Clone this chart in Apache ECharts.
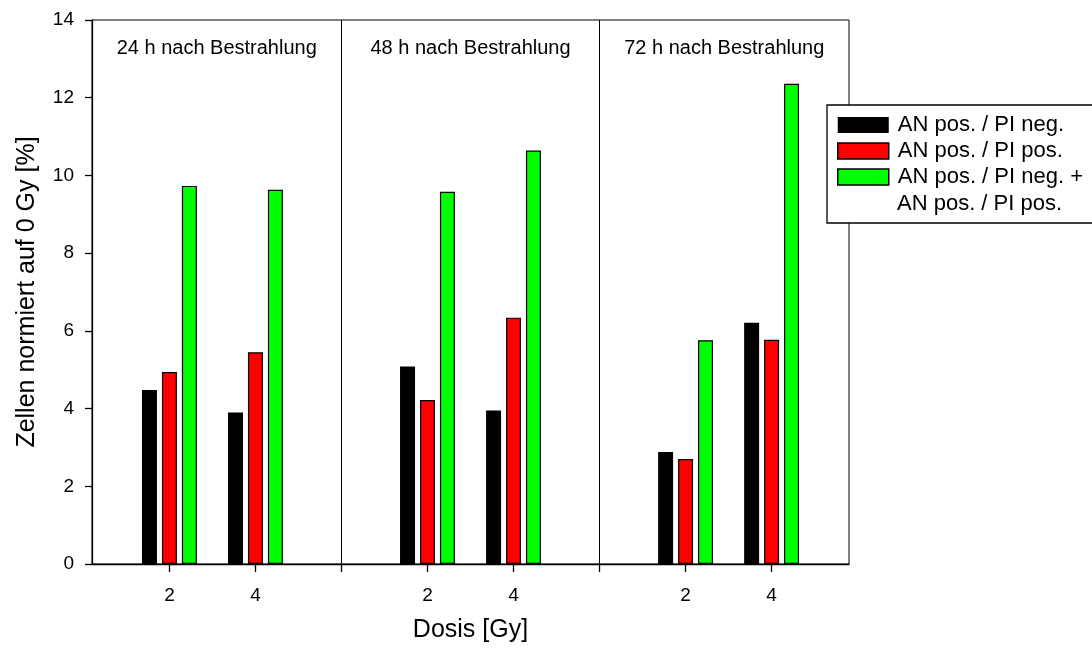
<!DOCTYPE html>
<html>
<head>
<meta charset="utf-8">
<script src="https://cdn.jsdelivr.net/npm/echarts@6/dist/echarts.min.js"></script>
<style>
  html, body { margin: 0; padding: 0; background: #fff; }
  #chart { width: 1092px; height: 648px; }
</style>
</head>
<body>
<div id="chart"></div>
<script>
// Dose levels within each time panel
const doseLabels = ['2', '4'];
// One panel per time after irradiation
const panelTitles = ['24 h nach Bestrahlung', '48 h nach Bestrahlung', '72 h nach Bestrahlung'];
// Series names
const seriesNames = ['AN pos. / PI neg.', 'AN pos. / PI pos.', 'AN pos. / PI neg. +\nAN pos. / PI pos.'];
// Values per series, ordered panel by panel, dose by dose (24h: 2,4 | 48h: 2,4 | 72h: 2,4)
const anPosPiNeg = [4.48, 3.90, 5.08, 3.95, 2.88, 6.21];
const anPosPiPos = [4.94, 5.45, 4.22, 6.34, 2.70, 5.77];
const anPosSum   = [9.73, 9.63, 9.58, 10.64, 5.76, 12.36];
// Y axis ticks
const yTicks = [0, 2, 4, 6, 8, 10, 12, 14];

const FONT = 'Liberation Sans, Arial, Helvetica, sans-serif';
const PANEL = 6;          // axis units per panel
const STEP = 2;           // axis units between doses
const AX_MIN = 0.2, AX_MAX = 3 * PANEL - 0.2;

// x position of dose d in panel p
const posOf = (p, d) => p * PANEL + (d + 1) * STEP;
const positions = [];
const posLabel = {};
panelTitles.forEach((_, p) => doseLabels.forEach((lab, d) => {
  const x = posOf(p, d);
  positions.push(x);
  posLabel[x] = lab;
}));
const tickPositions = [];
for (let x = STEP; x < AX_MAX; x += STEP) tickPositions.push(x);

const toPairs = vals => vals.map((v, i) => [positions[i], v]);

const colors = ['#000000', '#ff0000', '#00ff00'];
const values = [anPosPiNeg, anPosPiPos, anPosSum];

const series = values.map((vals, s) => ({
  name: seriesNames[s],
  type: 'bar',
  data: toPairs(vals),
  barWidth: 15,
  barGap: '33%',
  itemStyle: {
    color: colors[s],
    borderColor: '#000',
    borderWidth: s === 0 ? 0 : 1.2
  },
  emphasis: { disabled: true }
}));

// Panel dividers and panel headings (on the centred middle series)
series[1].markLine = {
  silent: true,
  symbol: 'none',
  label: { show: false },
  lineStyle: { color: '#000', width: 1, type: 'solid' },
  data: [1, 2].map(p => ({ xAxis: p * PANEL }))
};
series[1].markArea = {
  silent: true,
  itemStyle: { color: 'rgba(0,0,0,0)' },
  label: {
    show: true,
    position: 'insideTop',
    distance: 18,
    color: '#000',
    fontFamily: FONT,
    fontSize: 20
  },
  data: panelTitles.map((t, p) => [
    { name: t, xAxis: Math.max(AX_MIN, p * PANEL), yAxis: yTicks[yTicks.length - 1] },
    { xAxis: Math.min(AX_MAX, (p + 1) * PANEL), yAxis: yTicks[0] }
  ])
};

const [line3a, line3b] = seriesNames[2].split('\n');

const chart = echarts.init(document.getElementById('chart'), null, { renderer: 'canvas' });
chart.setOption({
  animation: false,
  backgroundColor: '#fff',
  textStyle: { fontFamily: FONT, color: '#000' },
  grid: {
    left: 92, right: 243, top: 20, bottom: 83,
    show: true, borderColor: '#000', borderWidth: 1, backgroundColor: 'transparent'
  },
  xAxis: {
    type: 'value',
    min: AX_MIN,
    max: AX_MAX,
    name: 'Dosis [Gy]',
    nameLocation: 'middle',
    nameGap: 54,
    nameTextStyle: { fontSize: 25, color: '#000', fontFamily: FONT },
    axisLine: { show: true, lineStyle: { color: '#000', width: 1.3 } },
    axisTick: { show: true, inside: false, length: 8, customValues: tickPositions, lineStyle: { color: '#000', width: 1.3 } },
    axisLabel: {
      customValues: positions,
      formatter: v => posLabel[Math.round(v)] || '',
      fontSize: 19, color: '#000', margin: 22, fontFamily: FONT
    },
    splitLine: { show: false }
  },
  yAxis: {
    type: 'value',
    min: yTicks[0],
    max: yTicks[yTicks.length - 1],
    interval: 2,
    name: 'Zellen normiert auf 0 Gy [%]',
    nameLocation: 'middle',
    nameRotate: 90,
    nameGap: 52,
    nameTextStyle: { fontSize: 25, color: '#000', fontFamily: FONT },
    axisLine: { show: true, lineStyle: { color: '#000', width: 1.3 } },
    axisTick: { show: true, inside: false, length: 7, lineStyle: { color: '#000', width: 1.3 } },
    axisLabel: { fontSize: 19, color: '#000', margin: 18, fontFamily: FONT },
    splitLine: { show: false }
  },
  legend: {
    z: 6,
    left: 837,
    top: 114,
    padding: 0,
    orient: 'vertical',
    itemWidth: 51,
    itemHeight: 16,
    itemGap: 4,
    icon: 'rect',
    selectedMode: false,
    formatter: name => name.split('\n')[0],
    textStyle: { fontSize: 22, color: '#000', fontFamily: FONT, padding: [0, 0, 0, 4] },
    data: [
      { name: seriesNames[0], itemStyle: { borderWidth: 0 } },
      { name: seriesNames[1], itemStyle: { borderColor: '#000', borderWidth: 1.5 } },
      { name: seriesNames[2], itemStyle: { borderColor: '#000', borderWidth: 1.5 } }
    ]
  },
  graphic: [{
    type: 'rect',
    z: 3,
    shape: { x: 827, y: 105, width: 300, height: 118 },
    style: { fill: '#fff', stroke: '#000', lineWidth: 1.3 }
  }, {
    // continuation line of the third legend entry
    type: 'text',
    z: 7,
    x: 897,
    y: 204,
    style: {
      text: line3b,
      font: '22px ' + FONT,
      fill: '#000',
      verticalAlign: 'middle',
      align: 'left'
    }
  }],
  series
});
</script>
</body>
</html>
